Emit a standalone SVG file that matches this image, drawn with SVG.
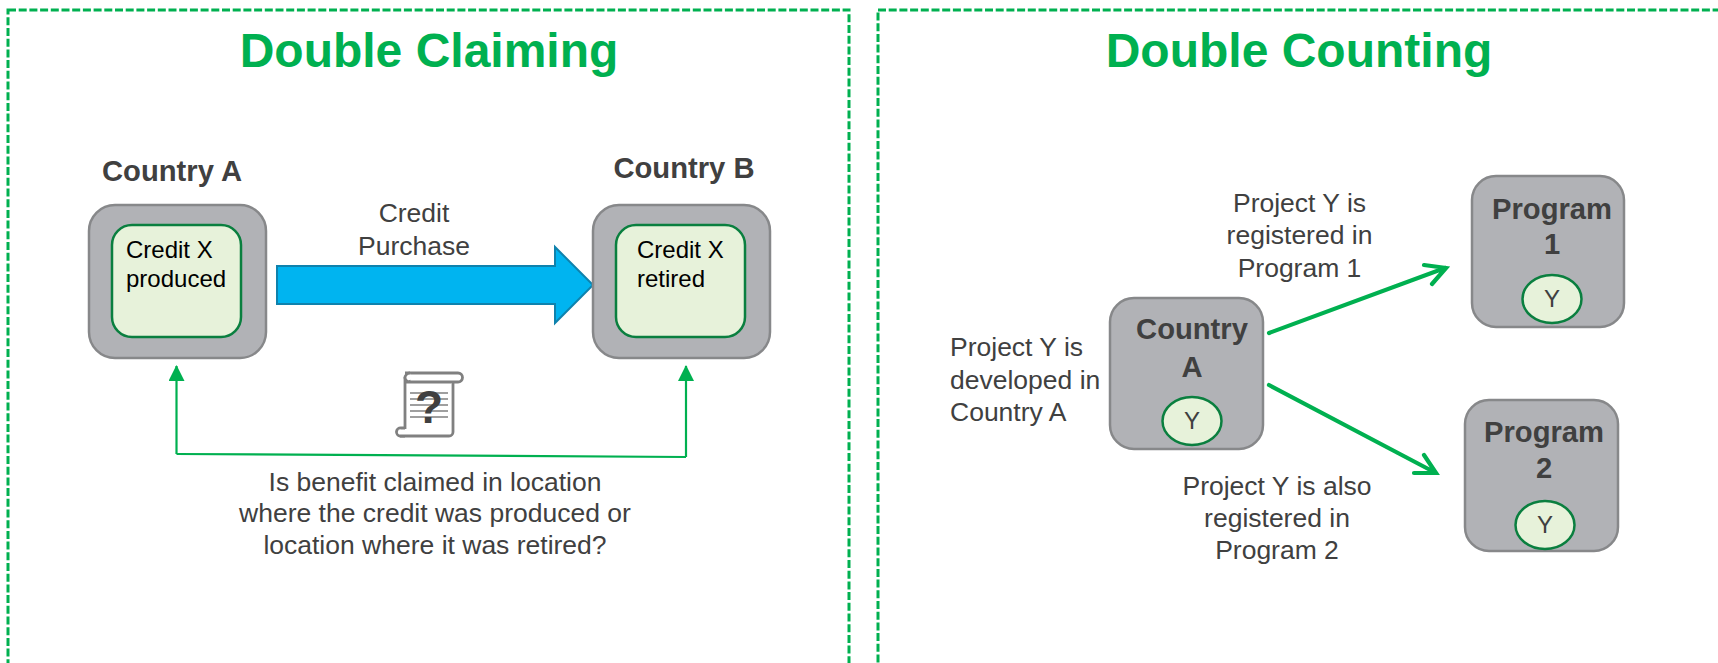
<svg xmlns="http://www.w3.org/2000/svg" width="1718" height="663" viewBox="0 0 1718 663">
<style>
text{font-family:"Liberation Sans",Arial,sans-serif;fill:#404040;text-anchor:middle}
.title{font-size:48px;font-weight:700;fill:#00b050}
.b{font-size:29.200px;font-weight:700}
.t{font-size:26.500px}
.l{text-anchor:start}
.k{font-size:24px;fill:#000;text-anchor:start}
.y{font-size:24px}
.frame{fill:none;stroke:#00b050;stroke-width:3;stroke-dasharray:8 2.700}
.gray{fill:#b1b2b6;stroke:#87888a;stroke-width:2.500}
.in{fill:#e7f2da;stroke:#0a7f3f;stroke-width:2.500}
.g{fill:none;stroke:#00b050;stroke-width:2.200}
.gt{fill:none;stroke:#00b050;stroke-width:4.200;stroke-linecap:round;stroke-linejoin:miter}
.scr{fill:#fff;stroke:#808080;stroke-width:2.800}
.ln{stroke:#808080;stroke-width:1.300}
</style>
<defs>
<marker id="tri" markerUnits="userSpaceOnUse" markerWidth="16" markerHeight="16" refX="15" refY="8" orient="auto"><path d="M0 0L16 8L0 16Z" fill="#00b050"/></marker>
</defs>
<g id="panel-left"><rect class="frame" x="8" y="10" width="841" height="670"/><text class="title" x="429" y="67">Double Claiming</text></g>
<g id="panel-right"><rect class="frame" x="878" y="10" width="860" height="670"/><text class="title" x="1289" y="67" dx="10">Double Counting</text></g>
<g id="connectors">
<path d="M277 266H555V247L593 285L555 323V304H277Z" fill="#00b4f0" stroke="#0f82ad" stroke-width="2"/>
<path class="g" d="M176.500 454L686 457"/>
<path class="g" d="M176.500 454V366" marker-end="url(#tri)"/>
<path class="g" d="M686 457V366" marker-end="url(#tri)"/>
<path class="gt" d="M1269 333L1445 268M1424 265L1446 268L1432 284"/>
<path class="gt" d="M1269 385L1435 472.500M1424 455L1436 473L1414 473"/>
</g>
<g id="country-a-left"><text class="b" x="172" y="181">Country A</text><rect class="gray" x="89" y="205" width="177" height="153" rx="26"/><rect class="in" x="112" y="225" width="129" height="112" rx="20"/><text class="k" x="126" y="258">Credit X</text><text class="k" x="126" y="287">produced</text></g>
<g id="country-b"><text class="b" x="684" y="178">Country B</text><rect class="gray" x="593" y="205" width="177" height="153" rx="26"/><rect class="in" x="616" y="225" width="129" height="112" rx="20"/><text class="k" x="637" y="258">Credit X</text><text class="k" x="637" y="287">retired</text></g>
<g id="credit-label"><text class="t" x="414" y="222">Credit</text><text class="t" x="414" y="255">Purchase</text></g>
<g id="scroll-icon">
<path class="scr" d="M405 373H458A4.500 4.500 0 0 1 458 382H405"/>
<path class="scr" d="M405 377V429M453 382V432A4 4 0 0 1 449 436H400"/>
<path class="scr" d="M410 373A5 5 0 0 0 405 378A4 4 0 0 0 411 381"/>
<path class="scr" d="M405 428H401A4 4 0 0 0 400 436H405"/>
<path class="ln" d="M410 393H448M410 399H448M410 405H448M410 411H448M410 417H448"/>
<text x="429" y="423" style="font-size:46px;font-weight:700">?</text>
</g>
<g id="question-label"><text class="t" x="435" y="491">Is benefit claimed in location</text><text class="t" x="435" y="522">where the credit was produced or</text><text class="t" x="435" y="554">location where it was retired?</text></g>
<g id="country-a-right"><rect class="gray" x="1110" y="298" width="153" height="151" rx="24"/><text class="b" x="1192" y="339">Country</text><text class="b" x="1192" y="377">A</text><ellipse class="in" cx="1192" cy="421" rx="29.500" ry="24"/><text class="y" x="1192" y="429">Y</text></g>
<g id="program-1"><rect class="gray" x="1472" y="176" width="152" height="151" rx="24"/><text class="b" x="1552" y="219">Program</text><text class="b" x="1552" y="254">1</text><ellipse class="in" cx="1552" cy="299" rx="29.500" ry="24"/><text class="y" x="1552" y="307">Y</text></g>
<g id="program-2"><rect class="gray" x="1465" y="400" width="153" height="151" rx="24"/><text class="b" x="1544" y="442">Program</text><text class="b" x="1544" y="478">2</text><ellipse class="in" cx="1545" cy="525" rx="29.500" ry="24"/><text class="y" x="1545" y="533">Y</text></g>
<g id="labels-right">
<text class="t l" x="950" y="356">Project Y is</text><text class="t l" x="950" y="389">developed in</text><text class="t l" x="950" y="421">Country A</text>
<text class="t" x="1299.500" y="212">Project Y is</text><text class="t" x="1299.500" y="244">registered in</text><text class="t" x="1299.500" y="277">Program 1</text>
<text class="t" x="1277" y="495">Project Y is also</text><text class="t" x="1277" y="527">registered in</text><text class="t" x="1277" y="559">Program 2</text>
</g>
</svg>
